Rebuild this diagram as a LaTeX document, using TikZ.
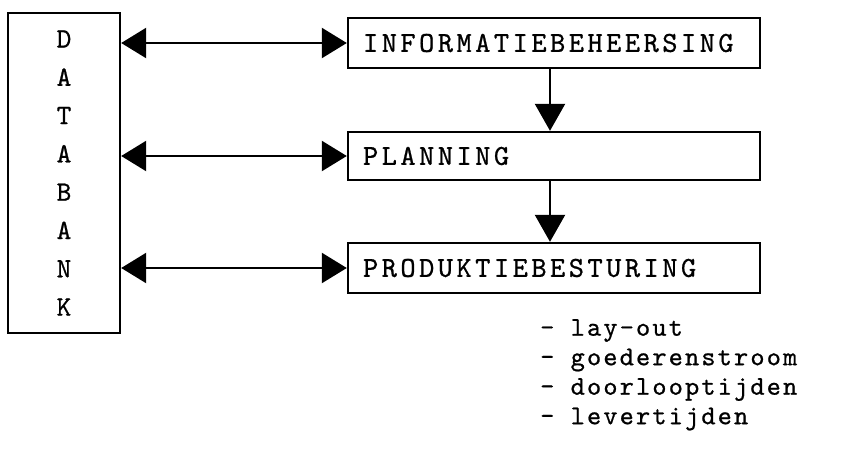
\documentclass[tikz,border=0pt]{standalone}
\usepackage{fontspec}
\usetikzlibrary{arrows.meta}
% typewriter lettering: Latin Modern Mono, spread out and slightly thickened
\newfontfamily\capstype{lmmono10-regular}[Extension=.otf, LetterSpace=12, FakeBold=0.8]
\newfontfamily\listtype{lmmono10-regular}[Extension=.otf, LetterSpace=8, FakeBold=0.8]
\newcommand{\capsfont}{\capstype\fontsize{29}{29}\selectfont}
\newcommand{\listfont}{\listtype\fontsize{27}{29.5}\selectfont}
\tikzset{
  frame/.style={draw, line width=2.4pt},
  unitbox/.style={frame, minimum width=412pt, inner xsep=15pt, inner ysep=0pt,
    text width=382pt, align=left, font=\capsfont},
  link/.style={line width=2.4pt, {Triangle[length=25pt,width=30pt]}-{Triangle[length=25pt,width=30pt]}},
  flow/.style={line width=2.4pt, -{Triangle[length=27pt,width=30pt]}},
}
\begin{document}
\begin{tikzpicture}[x=1pt, y=-1pt]
  \useasboundingbox (0,0) rectangle (847,453);
  % data bank column
  \node[frame, minimum width=112pt, minimum height=320pt, inner sep=0pt,
        align=center, font={\capstype\fontsize{28}{38.3}\selectfont}]
    (databank) at (64,173) {D\\A\\T\\A\\B\\A\\N\\K};
  % function blocks
  \node[unitbox, minimum height=50pt] (info) at (554,43) {INFORMATIEBEHEERSING};
  \node[unitbox, minimum height=48pt] (plan) at (554,156) {PLANNING};
  \node[unitbox, minimum height=50pt] (prod) at (554,268) {PRODUKTIEBESTURING};
  % links to the data bank
  \draw[link] (databank.east |- info.west) -- (info.west);
  \draw[link] (databank.east |- plan.west) -- (plan.west);
  \draw[link] (databank.east |- prod.west) -- (prod.west);
  % downward flow
  \coordinate (flowx) at (550,0);
  \draw[flow] (flowx |- info.south) -- (flowx |- plan.north);
  \draw[flow] (flowx |- plan.south) -- (flowx |- prod.north);
  % aspects of production control
  \node[anchor=north west, inner sep=0pt, align=left, font=\listfont]
    (aspects) at (540,319) {- lay-out\\- goederenstroom\\- doorlooptijden\\- levertijden};
\end{tikzpicture}
\end{document}
